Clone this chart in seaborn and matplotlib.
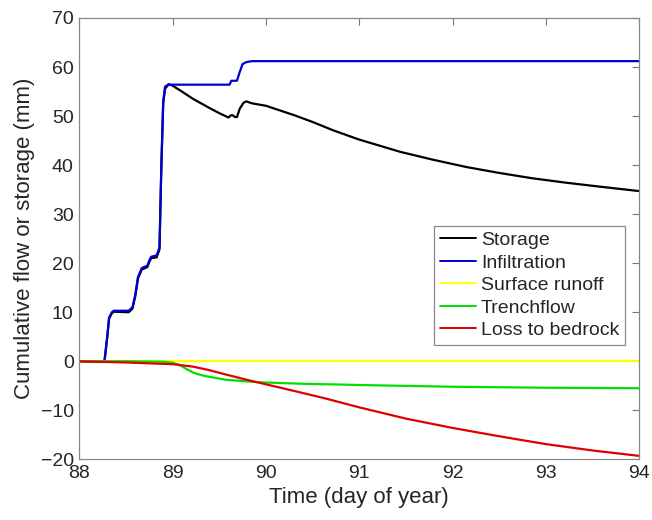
import matplotlib
matplotlib.use("Agg")
import matplotlib.pyplot as plt
import seaborn as sns
import pandas as pd

# ---- data ----
infil_t = [88.0, 88.27, 88.30, 88.32, 88.35, 88.37, 88.53, 88.57, 88.60, 88.63, 88.67,
           88.73, 88.75, 88.77, 88.83, 88.86, 88.88, 88.90, 88.92, 88.95, 89.61, 89.63,
           89.69, 89.72, 89.75, 89.79, 89.85, 94.0]
infil_v = [0.0, 0.0, 5.0, 8.9, 10.0, 10.3, 10.3, 11.0, 13.5, 17.2, 19.0,
           19.5, 20.5, 21.3, 21.6, 23.2, 40.0, 53.0, 56.0, 56.4, 56.4, 57.2,
           57.2, 59.0, 60.6, 61.0, 61.2, 61.2]

stor_t = [88.0, 88.27, 88.30, 88.32, 88.35, 88.37, 88.53, 88.57, 88.60, 88.63, 88.67,
          88.73, 88.75, 88.77, 88.83, 88.86, 88.88, 88.90, 88.92, 88.96, 89.0, 89.1,
          89.22, 89.4, 89.5, 89.6, 89.62, 89.64, 89.67, 89.69, 89.72, 89.76, 89.79,
          89.85, 90.0, 90.3, 90.5, 90.72, 91.0, 91.44, 91.79, 92.15, 92.5, 92.86,
          93.22, 93.58, 94.0]
stor_v = [0.0, -0.15, 4.8, 8.7, 9.8, 10.1, 10.0, 10.7, 13.2, 16.9, 18.7,
          19.2, 20.2, 21.0, 21.2, 22.8, 39.6, 52.6, 55.6, 56.5, 56.2, 55.0,
          53.5, 51.6, 50.6, 49.7, 50.1, 50.2, 49.8, 49.8, 51.5, 52.7, 53.0,
          52.6, 52.1, 50.2, 48.8, 47.1, 45.2, 42.7, 41.1, 39.6, 38.4, 37.3,
          36.4, 35.6, 34.7]

runoff_t = [88.0, 94.0]
runoff_v = [0.0, 0.0]

trench_t = [88.0, 88.5, 88.9, 89.0, 89.08, 89.15, 89.22, 89.3, 89.37, 89.58, 89.94,
            90.4, 90.8, 91.0, 92.0, 93.0, 94.0]
trench_v = [0.0, 0.0, -0.1, -0.3, -0.8, -1.6, -2.3, -2.8, -3.1, -3.8, -4.3,
            -4.6, -4.75, -4.85, -5.2, -5.4, -5.5]

bed_t = [88.0, 88.5, 89.0, 89.22, 89.39, 89.57, 89.82, 90.0, 90.29, 90.64, 91.0,
         91.5, 92.0, 92.5, 93.0, 93.5, 94.0]
bed_v = [0.0, -0.25, -0.6, -1.1, -1.8, -2.7, -3.9, -4.7, -6.0, -7.6, -9.4,
         -11.7, -13.6, -15.3, -16.9, -18.2, -19.3]

series = [
    ("Storage", stor_t, stor_v, "#000000"),
    ("Infiltration", infil_t, infil_v, "#0000d0"),
    ("Surface runoff", runoff_t, runoff_v, "#ffff00"),
    ("Trenchflow", trench_t, trench_v, "#00e000"),
    ("Loss to bedrock", bed_t, bed_v, "#e00000"),
]

x_ticks = [88, 89, 90, 91, 92, 93, 94]
y_ticks = [-20, -10, 0, 10, 20, 30, 40, 50, 60, 70]

# ---- plotting ----
sns.set_style("white")
plt.rcParams["font.family"] = ["Liberation Sans", "DejaVu Sans"]

fig = plt.figure(figsize=(6.52, 5.20), dpi=100)
ax = fig.add_axes([0.1215, 0.1167, 0.8589, 0.8487])

for name, t, v, c in series:
    df = pd.DataFrame({"t": t, "v": v})
    sns.lineplot(data=df, x="t", y="v", ax=ax, color=c, lw=1.6, label=name,
                 sort=False, estimator=None)

ax.set_xlim(88, 94)
ax.set_ylim(-20, 70)
ax.set_xticks(x_ticks)
ax.set_yticks(y_ticks)
ax.tick_params(direction="in", length=5, width=0.8, color="#777777",
               top=True, right=True, labelsize=14, pad=4)
for sp in ax.spines.values():
    sp.set_color("#888888")
    sp.set_linewidth(0.9)
ax.set_xlabel("Time (day of year)", fontsize=16, labelpad=4)
ax.set_ylabel("Cumulative flow or storage (mm)", fontsize=16, labelpad=4)

leg = ax.legend(loc="lower right", bbox_to_anchor=(0.975, 0.259), fontsize=14,
                frameon=True, fancybox=False, shadow=False, framealpha=1,
                edgecolor="#888888", handlelength=1.85, handletextpad=0.25,
                borderpad=0.3, labelspacing=0.25, borderaxespad=0)
leg.get_frame().set_linewidth(0.9)
for line in leg.get_lines():
    line.set_linewidth(1.4)

fig.savefig("out.png", dpi=100)
